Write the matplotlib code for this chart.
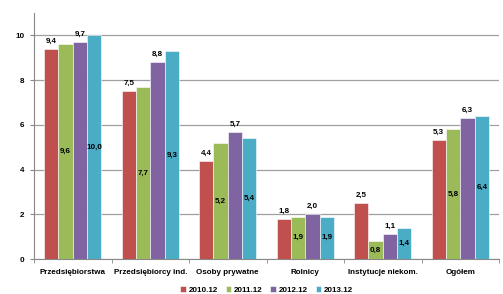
import numpy as np
import matplotlib.pyplot as plt
from matplotlib.ticker import FixedLocator

plt.rcParams["font.family"] = ["Liberation Sans", "DejaVu Sans"]
plt.rcParams["font.weight"] = "bold"

CATEGORIES = ["Przedsiębiorstwa", "Przedsiębiorcy ind.", "Osoby prywatne",
              "Rolnicy", "Instytucje niekom.", "Ogółem"]
SERIES = ["2010.12", "2011.12", "2012.12", "2013.12"]
V_2010 = [9.4, 7.5, 4.4, 1.8, 2.5, 5.3]
V_2011 = [9.6, 7.7, 5.2, 1.9, 0.8, 5.8]
V_2012 = [9.7, 8.8, 5.7, 2.0, 1.1, 6.3]
V_2013 = [10.0, 9.3, 5.4, 1.9, 1.4, 6.4]
COLORS = ["#C0504D", "#9BBB59", "#8064A2", "#4BACC6"]

fig = plt.figure(figsize=(5.03, 2.94), dpi=100)
ax = fig.add_axes([34 / 503, 35 / 294, 465 / 503, 246 / 294])

x = np.arange(len(CATEGORIES))
w = 0.185
data = [V_2010, V_2011, V_2012, V_2013]
for k, (vals, col, name) in enumerate(zip(data, COLORS, SERIES)):
    pos = x + (k - 1.5) * w
    ax.bar(pos, vals, w, color=col, label=name, edgecolor="white",
           linewidth=0.4, zorder=3)
    for p, v in zip(pos, vals):
        txt = f"{v:.1f}".replace(".", ",")
        if k in (0, 2):
            ax.annotate(txt, (p, v), xytext=(0, 3), textcoords="offset points",
                        ha="center", va="bottom", fontsize=5.8, fontweight="bold")
        else:
            ax.text(p, v / 2, txt, ha="center", va="center",
                    fontsize=5.8, fontweight="bold")

ax.set_xlim(-0.5, len(CATEGORIES) - 0.5)
ax.set_ylim(0, 11)
ax.set_yticks([0, 2, 4, 6, 8, 10])
ax.set_xticks(x)
ax.set_xticklabels(CATEGORIES, fontsize=5.8, fontweight="bold")
ax.xaxis.set_minor_locator(FixedLocator(np.arange(-0.5, len(CATEGORIES), 1.0)))
ax.tick_params(axis="x", which="major", length=0, pad=7)
ax.tick_params(axis="x", which="minor", length=3, color="#888888")
ax.tick_params(axis="y", length=3, color="#888888", labelsize=5.8, pad=4)
for lab in ax.get_yticklabels():
    lab.set_fontweight("bold")

ax.grid(axis="y", color="#A0A0A0", linewidth=0.9, zorder=0)
for s in ["top", "right"]:
    ax.spines[s].set_visible(False)
ax.spines["left"].set_color("#888888")
ax.spines["bottom"].set_color("#888888")

ax.legend(loc="center", bbox_to_anchor=(0.5, -0.126), ncol=4,
          frameon=False, fontsize=5.8, handlelength=0.7, handleheight=0.7,
          handletextpad=0.3, columnspacing=1.0, borderaxespad=0, borderpad=0)

plt.savefig("out.png", dpi=100)
